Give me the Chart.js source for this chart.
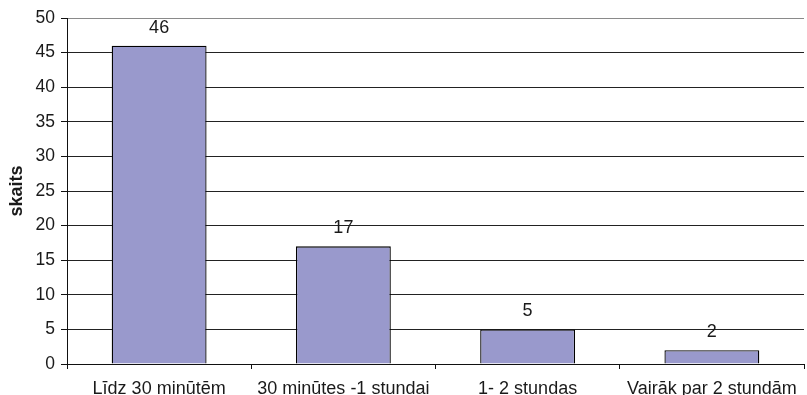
<!DOCTYPE html>
<html>
<head>
<meta charset="utf-8">
<script src="https://cdn.jsdelivr.net/npm/chart.js@4/dist/chart.umd.min.js"></script>
<style>
  html, body { margin: 0; padding: 0; background: #fff; }
  #wrap { width: 807px; height: 395px; position: relative; }
</style>
</head>
<body>
<div id="wrap"><canvas id="c"></canvas></div>
<script>
// Time spent – response counts per category
const categories = ["Līdz 30 minūtēm", "30 minūtes -1 stundai", "1- 2 stundas", "Vairāk par 2 stundām"];
const counts = [46, 17, 5, 2];
const yTicks = [0, 5, 10, 15, 20, 25, 30, 35, 40, 45, 50];
const yTitle = "skaits";

const FONT = "'Liberation Sans', Arial, sans-serif";

// Writes each bar's value just above it
const valueLabels = {
  id: 'valueLabels',
  afterDatasetsDraw(chart) {
    const ctx = chart.ctx;
    const meta = chart.getDatasetMeta(0);
    ctx.save();
    ctx.font = "18px " + FONT;
    ctx.fillStyle = "#1a1a1a";
    ctx.textAlign = "center";
    ctx.textBaseline = "alphabetic";
    meta.data.forEach((bar, i) => {
      ctx.fillText(String(counts[i]), bar.x, bar.y - 13);
    });
    ctx.restore();
  }
};

new Chart(document.getElementById('c'), {
  type: 'bar',
  data: {
    labels: categories,
    datasets: [{
      data: counts,
      backgroundColor: '#9999cc',
      borderColor: '#000',
      borderWidth: 1.3,
      barPercentage: 0.515,
      categoryPercentage: 1.0
    }]
  },
  options: {
    responsive: true,
    maintainAspectRatio: false,
    animation: false,
    layout: { padding: { top: 18, right: 3, left: 0, bottom: 0 } },
    plugins: { legend: { display: false }, tooltip: { enabled: false } },
    scales: {
      x: {
        grid: {
          offset: true,
          drawOnChartArea: false,
          drawTicks: true,
          tickLength: 5,
          tickColor: '#111'
        },
        border: { color: '#111', width: 1 },
        ticks: {
          color: '#1a1a1a',
          font: { family: FONT, size: 18 },
          padding: 9,
          maxRotation: 0,
          autoSkip: false
        },
        afterFit(scale) { scale.height = 31; }
      },
      y: {
        min: 0,
        max: 50,
        afterBuildTicks(scale) { scale.ticks = yTicks.map(v => ({ value: v })); },
        grid: {
          color: ctx => (ctx.tick && ctx.tick.value === 50) ? '#8a8a8a' : '#222',
          tickLength: 6,
          tickColor: '#111',
          lineWidth: 1
        },
        border: { color: '#111', width: 1 },
        ticks: {
          color: '#1a1a1a',
          font: { family: FONT, size: 17.5 },
          padding: 6
        },
        title: {
          display: true,
          text: yTitle,
          color: '#1a1a1a',
          font: { family: FONT, size: 18, weight: 'bold' },
          padding: { top: 6, bottom: 0 }
        },
        afterFit(scale) { scale.width = 67; }
      }
    }
  },
  plugins: [valueLabels]
});
</script>
</body>
</html>
